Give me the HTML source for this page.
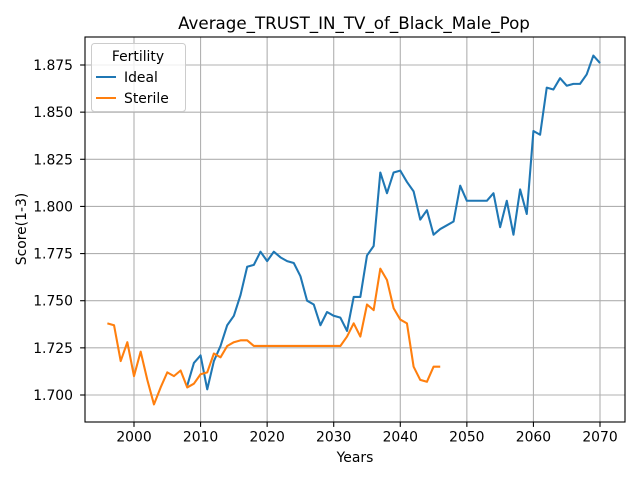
<!DOCTYPE html>
<html><head><meta charset="utf-8"><style>body{margin:0;background:#fff}svg{font-family:"DejaVu Sans","Liberation Sans",sans-serif}</style></head>
<body>
<svg id="c" width="640" height="480"></svg>
<script>
const idealYears = [];
for (let y = 2008; y <= 2070; y++) idealYears.push(y);
const idealValues = [1.705,1.717,1.721,1.703,1.718,1.726,1.737,1.742,1.753,1.768,1.769,1.776,1.771,1.776,1.773,1.771,1.770,1.763,1.750,1.748,1.737,1.744,1.742,1.741,1.734,1.752,1.752,1.774,1.779,1.818,1.807,1.818,1.819,1.813,1.808,1.793,1.798,1.785,1.788,1.790,1.792,1.811,1.803,1.803,1.803,1.803,1.807,1.789,1.803,1.785,1.809,1.796,1.840,1.838,1.863,1.862,1.868,1.864,1.865,1.865,1.870,1.880,1.876];
const sterileYears = [];
for (let y = 1996; y <= 2046; y++) sterileYears.push(y);
const sterileValues = [1.738,1.737,1.718,1.728,1.710,1.723,1.708,1.695,1.704,1.712,1.710,1.713,1.704,1.706,1.711,1.712,1.722,1.720,1.726,1.728,1.729,1.729,1.726,1.726,1.726,1.726,1.726,1.726,1.726,1.726,1.726,1.726,1.726,1.726,1.726,1.726,1.731,1.738,1.731,1.748,1.745,1.767,1.761,1.746,1.740,1.738,1.715,1.708,1.707,1.715,1.715].slice(0,51);
const xTicks = [2000,2010,2020,2030,2040,2050,2060,2070];
const yTicks = [1.700,1.725,1.750,1.775,1.800,1.825,1.850,1.875];
const yTickLabels = ["1.700","1.725","1.750","1.775","1.800","1.825","1.850","1.875"];

const L=85,R=625,T=37,B=422;
const xs = v => 134 + (v-2000)*(466/70);
const ys = v => 395 - (v-1.700)*(330/0.175);
const svg = document.getElementById('c');
const NS='http://www.w3.org/2000/svg';
function mk(tag, attrs, parent){const e=document.createElementNS(NS,tag);for(const k in attrs)e.setAttribute(k,attrs[k]);(parent||svg).appendChild(e);return e;}

xTicks.forEach(t=>{
  const g=mk('line',{x1:xs(t),x2:xs(t),y1:T,y2:B,stroke:'#b0b0b0','stroke-width':1.1});
  
  
  mk('line',{x1:xs(t),x2:xs(t),y1:B,y2:B+4.9,stroke:'#000','stroke-width':1.1});
  const tx=mk('text',{x:xs(t),y:B+19.5,'text-anchor':'middle','font-size':13.9});
  tx.textContent=t;
  
  
});
yTicks.forEach((t,i)=>{
  const g=mk('line',{x1:L,x2:R,y1:ys(t),y2:ys(t),stroke:'#b0b0b0','stroke-width':1.1});
  
  
  mk('line',{x1:L-4.9,x2:L,y1:ys(t),y2:ys(t),stroke:'#000','stroke-width':1.1});
  const tx=mk('text',{x:L-12,y:ys(t)+5,'text-anchor':'end','font-size':13.9});
  tx.textContent=yTickLabels[i];
  
  
});
function line(xa,va,color,name){
  const p=mk('polyline',{points:xa.map((x,i)=>xs(x)+','+ys(va[i])).join(' '),fill:'none',stroke:color,'stroke-width':2.08,'stroke-linejoin':'round'});
  
  
}
line(idealYears,idealValues,'#1f77b4','ideal-line');
line(sterileYears,sterileValues,'#ff7f0e','sterile-line');
const fr=mk('rect',{x:L,y:T,width:R-L,height:B-T,fill:'none',stroke:'#000','stroke-width':1.1});


</script>
<svg width="640" height="480" style="position:absolute;left:0;top:0">
<text x="354" y="29" text-anchor="middle" font-size="16.7">Average_TRUST_IN_TV_of_Black_Male_Pop</text>
<text x="355" y="462" text-anchor="middle" font-size="13.9">Years</text>
<text x="26" y="229" text-anchor="middle" font-size="13.9" transform="rotate(-90 26 229)">Score(1-3)</text>
<g>
<rect x="91.5" y="43.5" width="94" height="68" rx="3" fill="#fff" fill-opacity="0.8" stroke="#ccc"/>
<text x="138" y="61" text-anchor="middle" font-size="13.9">Fertility</text>
<line x1="96" x2="116" y1="77" y2="77" stroke="#1f77b4" stroke-width="2.08"/>
<text x="124" y="82" font-size="13.9">Ideal</text>
<line x1="96" x2="116" y1="98" y2="98" stroke="#ff7f0e" stroke-width="2.08"/>
<text x="124" y="103" font-size="13.9">Sterile</text>
</g>
</svg>
</body></html>
